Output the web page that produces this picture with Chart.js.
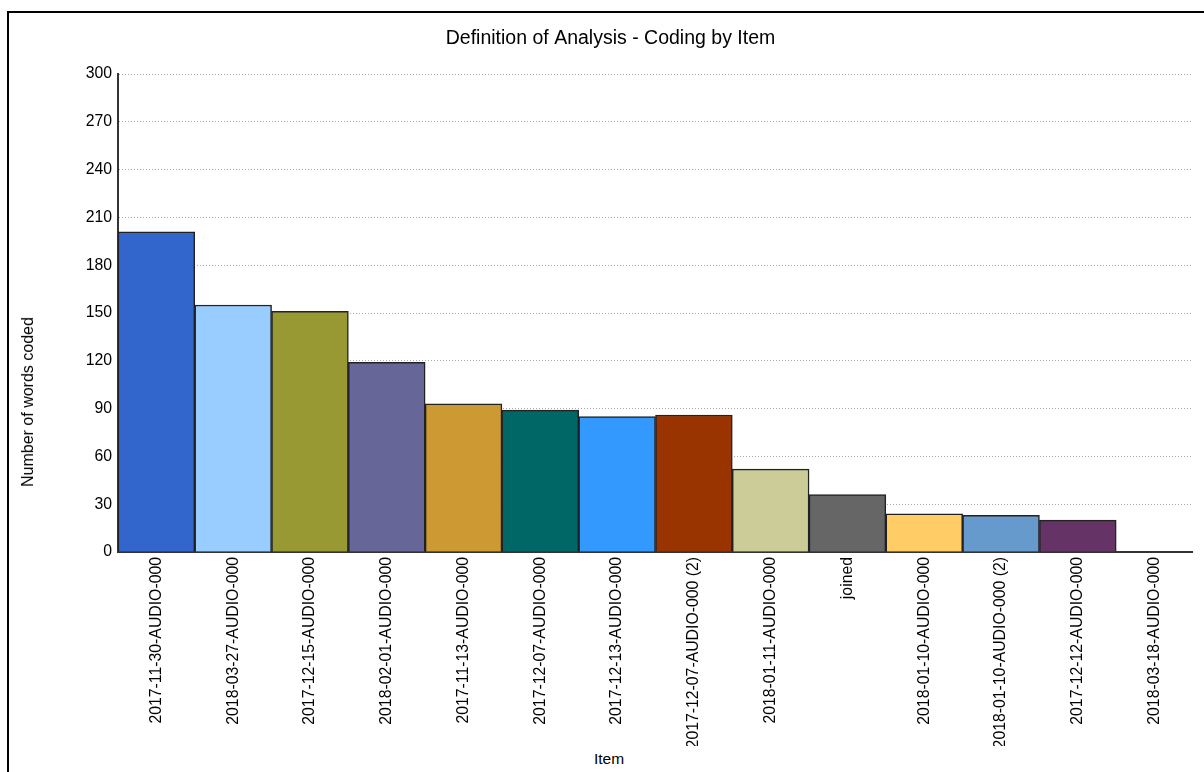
<!DOCTYPE html>
<html>
<head>
<meta charset="utf-8">
<script src="https://cdn.jsdelivr.net/npm/chart.js@4"></script>
<style>
    body { margin: 0; background: #fff; overflow: hidden; font-family: "Liberation Sans", Arial, sans-serif; }
    #frame { position: absolute; left: 7px; top: 11px; width: 1400px; height: 1000px; border-left: 2px solid #000; border-top: 2px solid #000; }
    #wrap { position: absolute; left: 28px; top: 14px; width: 1165px; height: 732px; }
    .axisTitle { position: absolute; font-size: 15.5px; font-weight: normal; color: #000; white-space: nowrap; }
    #yTitle { left: 28px; top: 402px; transform: translate(-50%, -50%) rotate(-90deg); font-size: 16px; }
    #xTitle { left: 609px; top: 759px; transform: translate(-50%, -50%); }
</style>
</head>
<body>
<div id="frame"></div>
<div id="wrap"><canvas id="itemChart"></canvas></div>
<div class="axisTitle" id="yTitle">Number of words coded</div>
<div class="axisTitle" id="xTitle">Item</div>
<script>
// Items, in the order shown on the chart
const items = [
    '2017-11-30-AUDIO-000',
    '2018-03-27-AUDIO-000',
    '2017-12-15-AUDIO-000',
    '2018-02-01-AUDIO-000',
    '2017-11-13-AUDIO-000',
    '2017-12-07-AUDIO-000',
    '2017-12-13-AUDIO-000',
    '2017-12-07-AUDIO-000 (2)',
    '2018-01-11-AUDIO-000',
    'joined',
    '2018-01-10-AUDIO-000',
    '2018-01-10-AUDIO-000 (2)',
    '2017-12-12-AUDIO-000',
    '2018-03-18-AUDIO-000'
];

// Number of words coded per item
const wordsCoded = [201, 155, 151, 119, 93, 89, 85, 86, 52, 36, 24, 23, 20, 0];

// y axis ticks
const yMin = 0;
const yMax = 300;
const yStep = 30;

const barColors = [
    '#3366CC', '#99CCFF', '#999933', '#666699', '#CC9933', '#006666', '#3399FF',
    '#993300', '#CCCC99', '#666666', '#FFCC66', '#6699CC', '#663366', '#9999FF'
];

const tickFont = { family: '"Liberation Sans", Arial, sans-serif', size: 15.8 };

const ctx = document.getElementById('itemChart').getContext('2d');
window.itemChart = new Chart(ctx, {
    type: 'bar',
    data: {
        labels: items,
        datasets: [{
            label: 'Number of words coded',
            data: wordsCoded,
            backgroundColor: barColors,
            borderColor: '#222',
            borderWidth: 1.5,
            borderSkipped: 'start',
            categoryPercentage: 1.0,
            barPercentage: 1.0
        }]
    },
    options: {
        responsive: true,
        maintainAspectRatio: false,
        animation: false,
        layout: { padding: 0 },
        plugins: {
            legend: { display: false },
            tooltip: { enabled: false },
            title: {
                display: true,
                text: 'Definition of Analysis - Coding by Item',
                color: '#000',
                font: { family: '"Liberation Sans", Arial, sans-serif', size: 19.5, weight: 'normal' },
                padding: { top: 13, bottom: 23.6 }
            }
        },
        scales: {
            x: {
                grid: { display: false, drawTicks: false },
                border: { display: true, color: '#333', width: 2 },
                ticks: {
                    color: '#000',
                    font: tickFont,
                    minRotation: 90,
                    maxRotation: 90,
                    autoSkip: false,
                    padding: 5
                },
                afterFit: function (scale) { scale.height = 194; }
            },
            y: {
                min: yMin,
                max: yMax,
                grid: { color: '#a8a8a8', lineWidth: 1, drawTicks: false },
                border: { display: true, color: '#333', width: 2, dash: [1, 2] },
                ticks: {
                    stepSize: yStep,
                    color: '#000',
                    font: tickFont,
                    padding: 6
                },
                afterFit: function (scale) { scale.width = 90; }
            }
        }
    }
});
</script>
</body>
</html>
